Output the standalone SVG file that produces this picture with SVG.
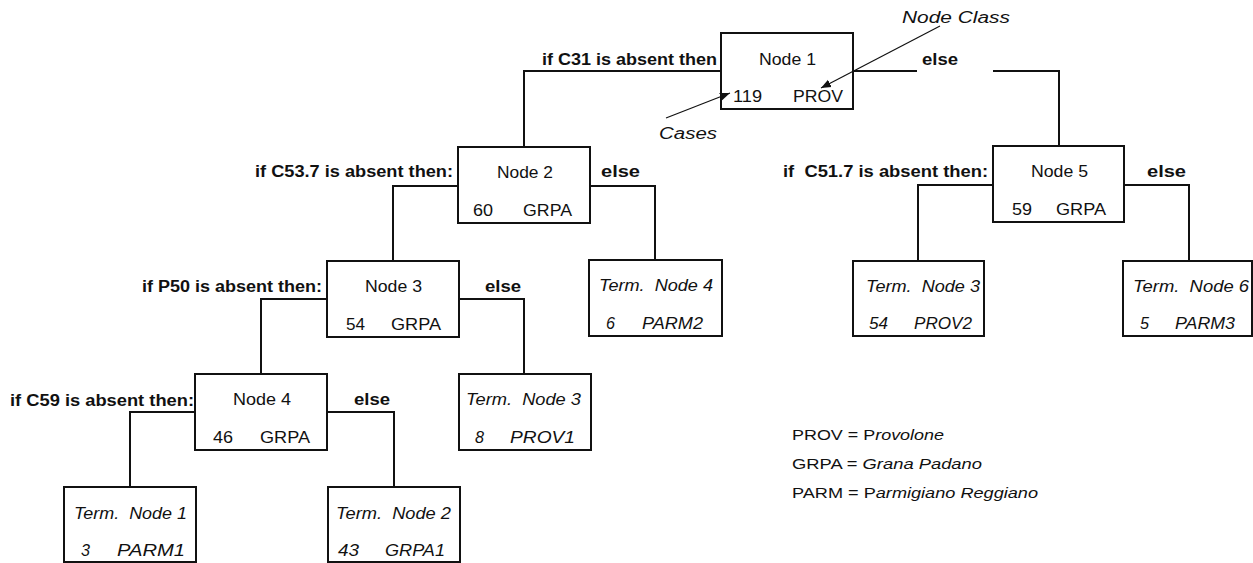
<svg xmlns="http://www.w3.org/2000/svg" width="1253" height="563" viewBox="0 0 1253 563">
<style>
text{font-family:"Liberation Sans",Arial,sans-serif;font-size:16px;fill:#111;white-space:pre}
.b{font-weight:bold}
.i{font-style:italic}
.box{fill:#fff;stroke:#111;stroke-width:2}
.con{fill:none;stroke:#111;stroke-width:2}
.ptr{fill:none;stroke:#111;stroke-width:1.2}
.lg{font-size:14.5px}
</style>
<defs>
<marker id="ah" viewBox="0 0 10 10" refX="10" refY="5" markerWidth="10" markerHeight="10" markerUnits="userSpaceOnUse" orient="auto">
<path d="M0,1 L10,5 L0,9 Z" fill="#111"/>
</marker>
</defs>
<rect width="1253" height="563" fill="#fff"/>
<g id="connectors">
<polyline class="con" points="721,71 524,71 524,147"/>
<polyline class="con" points="853,71 917,71"/>
<polyline class="con" points="993,71 1059,71 1059,146"/>
<polyline class="con" points="458,186 393,186 393,261"/>
<polyline class="con" points="590,186 655,186 655,260"/>
<polyline class="con" points="327,299 261,299 261,374"/>
<polyline class="con" points="459,299 524,299 524,374"/>
<polyline class="con" points="195,412 130,412 130,487"/>
<polyline class="con" points="327,412 394,412 394,487"/>
<polyline class="con" points="993,185 918,185 918,261"/>
<polyline class="con" points="1124,185 1189,185 1189,261"/>
</g>
<g id="labels">
<text class="b" x="542" y="65" textLength="175" lengthAdjust="spacingAndGlyphs">if C31 is absent then</text>
<text class="b" x="922" y="65" textLength="36" lengthAdjust="spacingAndGlyphs">else</text>
<text class="b" x="255" y="177" textLength="198" lengthAdjust="spacingAndGlyphs">if C53.7 is absent then:</text>
<text class="b" x="601" y="177" textLength="39" lengthAdjust="spacingAndGlyphs">else</text>
<text class="b" x="142" y="292" textLength="180" lengthAdjust="spacingAndGlyphs">if P50 is absent then:</text>
<text class="b" x="485" y="292" textLength="36" lengthAdjust="spacingAndGlyphs">else</text>
<text class="b" x="10" y="406" textLength="184" lengthAdjust="spacingAndGlyphs">if C59 is absent then:</text>
<text class="b" x="354" y="405" textLength="36" lengthAdjust="spacingAndGlyphs">else</text>
<text class="b" x="783" y="177" textLength="205" lengthAdjust="spacingAndGlyphs">if  C51.7 is absent then:</text>
<text class="b" x="1147" y="177" textLength="39" lengthAdjust="spacingAndGlyphs">else</text>
</g>
<g id="node1">
<rect class="box" x="721" y="33" width="132" height="76"/>
<text x="759" y="65" textLength="57" lengthAdjust="spacingAndGlyphs">Node 1</text>
<text x="733" y="102" textLength="29" lengthAdjust="spacingAndGlyphs">119</text>
<text x="793" y="102" textLength="50" lengthAdjust="spacingAndGlyphs">PROV</text>
</g>
<g id="node2">
<rect class="box" x="458" y="147" width="132" height="76"/>
<text x="497" y="178" textLength="56" lengthAdjust="spacingAndGlyphs">Node 2</text>
<text x="473" y="216" textLength="20" lengthAdjust="spacingAndGlyphs">60</text>
<text x="523" y="216" textLength="49" lengthAdjust="spacingAndGlyphs">GRPA</text>
</g>
<g id="node3">
<rect class="box" x="327" y="261" width="132" height="76"/>
<text x="365" y="292" textLength="57" lengthAdjust="spacingAndGlyphs">Node 3</text>
<text x="346" y="330" textLength="19" lengthAdjust="spacingAndGlyphs">54</text>
<text x="391" y="330" textLength="50" lengthAdjust="spacingAndGlyphs">GRPA</text>
</g>
<g id="node4">
<rect class="box" x="195" y="374" width="132" height="76"/>
<text x="233" y="405" textLength="58" lengthAdjust="spacingAndGlyphs">Node 4</text>
<text x="213" y="443" textLength="20" lengthAdjust="spacingAndGlyphs">46</text>
<text x="260" y="443" textLength="50" lengthAdjust="spacingAndGlyphs">GRPA</text>
</g>
<g id="node5">
<rect class="box" x="993" y="146" width="131" height="76"/>
<text x="1031" y="177" textLength="57" lengthAdjust="spacingAndGlyphs">Node 5</text>
<text x="1012" y="215" textLength="20" lengthAdjust="spacingAndGlyphs">59</text>
<text x="1056" y="215" textLength="50" lengthAdjust="spacingAndGlyphs">GRPA</text>
</g>
<g id="term1">
<rect class="box" x="64" y="487" width="132" height="75"/>
<text class="i" x="74" y="519" textLength="113" lengthAdjust="spacingAndGlyphs">Term.  Node 1</text>
<text class="i" x="81" y="556" textLength="9" lengthAdjust="spacingAndGlyphs">3</text>
<text class="i" x="117" y="556" textLength="68" lengthAdjust="spacingAndGlyphs">PARM1</text>
</g>
<g id="term2">
<rect class="box" x="328" y="487" width="132" height="75"/>
<text class="i" x="336" y="519" textLength="115" lengthAdjust="spacingAndGlyphs">Term.  Node 2</text>
<text class="i" x="338" y="556" textLength="21" lengthAdjust="spacingAndGlyphs">43</text>
<text class="i" x="385" y="556" textLength="60" lengthAdjust="spacingAndGlyphs">GRPA1</text>
</g>
<g id="term3a">
<rect class="box" x="459" y="374" width="132" height="76"/>
<text class="i" x="466" y="405" textLength="115" lengthAdjust="spacingAndGlyphs">Term.  Node 3</text>
<text class="i" x="475" y="443" textLength="9" lengthAdjust="spacingAndGlyphs">8</text>
<text class="i" x="510" y="443" textLength="65" lengthAdjust="spacingAndGlyphs">PROV1</text>
</g>
<g id="term4">
<rect class="box" x="589" y="260" width="133" height="76"/>
<text class="i" x="599" y="291" textLength="114" lengthAdjust="spacingAndGlyphs">Term.  Node 4</text>
<text class="i" x="606" y="329" textLength="9" lengthAdjust="spacingAndGlyphs">6</text>
<text class="i" x="642" y="329" textLength="61" lengthAdjust="spacingAndGlyphs">PARM2</text>
</g>
<g id="term3b">
<rect class="box" x="853" y="261" width="131" height="75"/>
<text class="i" x="866" y="292" textLength="114" lengthAdjust="spacingAndGlyphs">Term.  Node 3</text>
<text class="i" x="869" y="329" textLength="19" lengthAdjust="spacingAndGlyphs">54</text>
<text class="i" x="914" y="329" textLength="58" lengthAdjust="spacingAndGlyphs">PROV2</text>
</g>
<g id="term6">
<rect class="box" x="1123" y="261" width="129" height="75"/>
<text class="i" x="1133" y="292" textLength="116" lengthAdjust="spacingAndGlyphs">Term.  Node 6</text>
<text class="i" x="1140" y="329" textLength="9" lengthAdjust="spacingAndGlyphs">5</text>
<text class="i" x="1175" y="329" textLength="60" lengthAdjust="spacingAndGlyphs">PARM3</text>
</g>
<g id="annotations">
<line class="ptr" x1="940" y1="26" x2="821" y2="88" marker-end="url(#ah)"/>
<line class="ptr" x1="666" y1="118" x2="730" y2="93" marker-end="url(#ah)"/>
<text class="i" x="902" y="23" textLength="108" lengthAdjust="spacingAndGlyphs">Node Class</text>
<text class="i" x="659" y="139" textLength="58" lengthAdjust="spacingAndGlyphs">Cases</text>
</g>
<g id="legend">
<text class="lg" x="792" y="440" textLength="152" lengthAdjust="spacingAndGlyphs">PROV = P<tspan class="i">rovolone</tspan></text>
<text class="lg" x="792" y="469" textLength="190" lengthAdjust="spacingAndGlyphs">GRPA = <tspan class="i">Grana Padano</tspan></text>
<text class="lg" x="792" y="498" textLength="246" lengthAdjust="spacingAndGlyphs">PARM = P<tspan class="i">armigiano Reggiano</tspan></text>
</g>
</svg>
